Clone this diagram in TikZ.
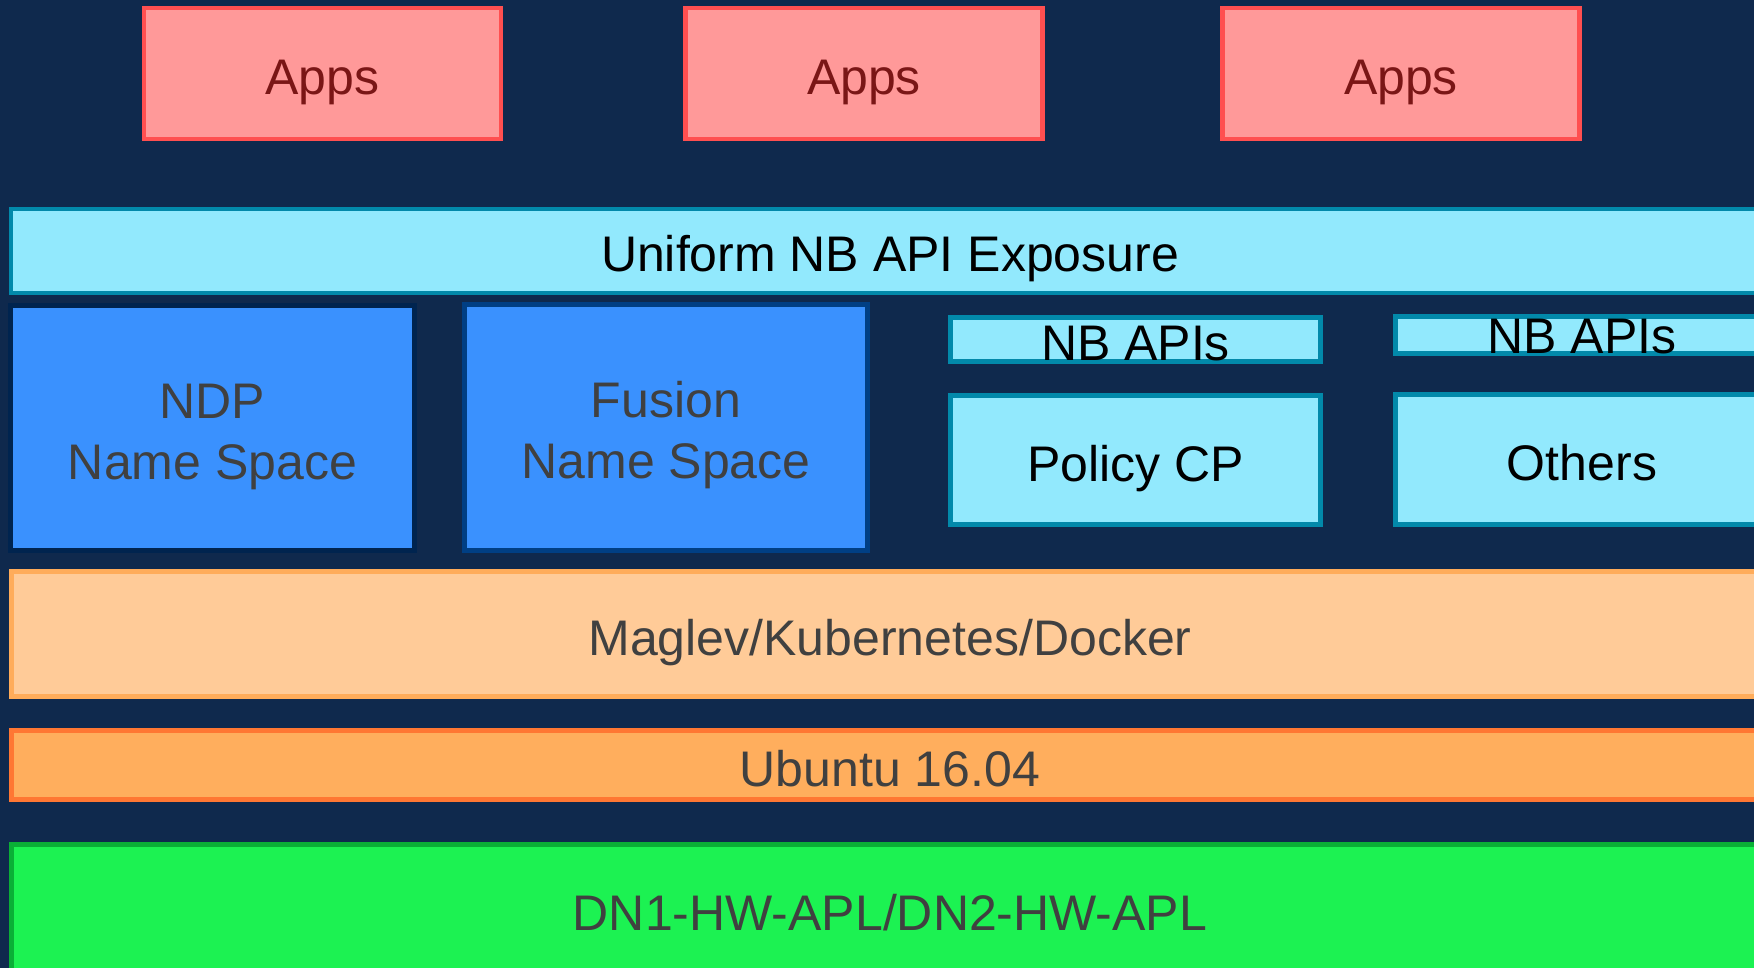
\documentclass[tikz,border=0pt]{standalone}
\usepackage{fontspec}
\setmainfont{Liberation Sans}
\definecolor{bgnavy}{HTML}{0F294D}
\definecolor{appfill}{HTML}{FF9999}
\definecolor{appline}{HTML}{FF4F50}
\definecolor{apptext}{HTML}{7A1616}
\definecolor{apifill}{HTML}{92E9FD}
\definecolor{apiline}{HTML}{0289AA}
\definecolor{nsfill}{HTML}{3A91FE}
\definecolor{ndpline}{HTML}{00244F}
\definecolor{fusline}{HTML}{003F84}
\definecolor{magfill}{HTML}{FFCB98}
\definecolor{magline}{HTML}{FFAC5A}
\definecolor{ubfill}{HTML}{FFAE5D}
\definecolor{ubline}{HTML}{FF7733}
\definecolor{hwfill}{HTML}{1CF252}
\definecolor{hwline}{HTML}{0AAF36}
\definecolor{labelgray}{HTML}{404040}
\begin{document}
\begin{tikzpicture}[x=1pt,y=-1pt,
  box/.style={rectangle,draw,line width=4.5pt,inner sep=0pt,
    font=\fontsize{50}{61}\selectfont},
  one line/.style={box,text height=42pt,text depth=0pt},
  app node/.style={one line,fill=appfill,draw=appline,text=apptext,
    minimum width=357pt,minimum height=131pt},
  api node/.style={one line,fill=apifill,draw=apiline,text=black},
  ns node/.style={box,fill=nsfill,text=labelgray,align=center,
    text height=102pt,text depth=0pt},
  layer node/.style={one line,text=labelgray,minimum width=1757pt}]
  \fill[bgnavy] (0,0) rectangle (1754,968);
  \clip (0,0) rectangle (1754,968);

  % top row
  \node[app node] (app1) at (322.5,73.5) {Apps};
  \node[app node] (app2) at (864,73.5) {Apps};
  \node[app node] (app3) at (1401,73.5) {Apps};

  % exposure layer
  \node[api node,minimum width=1758pt,minimum height=84pt] (nbapi) at (890,251) {Uniform NB API Exposure};

  % name spaces and services
  \node[ns node,draw=ndpline,minimum width=404pt,minimum height=245pt] (ndp) at (212.5,428) {NDP\\Name Space};
  \node[ns node,draw=fusline,minimum width=403pt,minimum height=246pt] (fusion) at (666,427.5) {Fusion\\Name Space};
  \node[api node,minimum width=370pt,minimum height=44pt] (nb1) at (1135.5,339.5) {NB APIs};
  \node[api node,minimum width=370pt,minimum height=129pt] (policy) at (1135.5,460) {Policy CP};
  \node[api node,text height=37pt,minimum width=373pt,minimum height=37pt] (nb2) at (1582,335) {NB APIs};
  \node[api node,minimum width=373pt,minimum height=130pt] (others) at (1582,459.5) {Others};

  % platform layers
  \node[layer node,fill=magfill,draw=magline,minimum height=125pt] (maglev) at (890,634) {Maglev/Kubernetes/Docker};
  \node[layer node,fill=ubfill,draw=ubline,minimum height=69pt] (ubuntu) at (890,765) {Ubuntu 16.04};
  \node[layer node,fill=hwfill,draw=hwline,minimum height=129pt] (hw) at (890,909) {DN1-HW-APL/DN2-HW-APL};
\end{tikzpicture}
\end{document}
